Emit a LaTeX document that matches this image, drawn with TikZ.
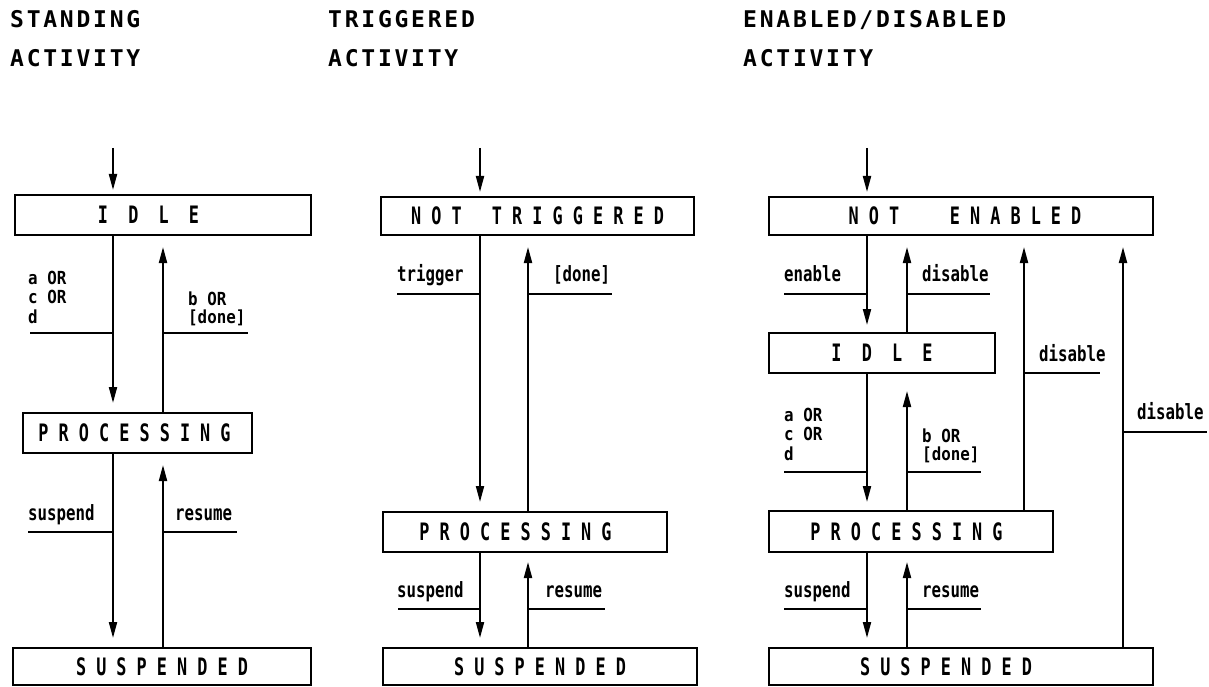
\documentclass[tikz,border=0pt]{standalone}
\usepackage{fontspec}
\usepackage{graphicx}
\usetikzlibrary{arrows.meta}
\newfontfamily\hdfont[LetterSpace=12]{DejaVu Sans Mono}
\newfontfamily\mfont{DejaVu Sans Mono}
\newcommand\boxtxt[1]{\scalebox{0.70}[1]{\mfont\bfseries\fontsize{24}{24}\selectfont #1}}
\newcommand\labtxt[1]{\scalebox{0.75}[1]{\mfont\bfseries\fontsize{21}{18}\selectfont #1}}
\newcommand\mltxt[2]{\scalebox{0.88}[1]{\mfont\bfseries\fontsize{18}{#1}\selectfont\vbox{#2}}}
\tikzset{
  stbox/.style={draw, line width=2.4pt, inner sep=0pt, outer sep=0pt},
  txt/.style={inner sep=0pt},
  lab/.style={inner sep=0pt, anchor=base west},
  hd/.style={inner sep=0pt, anchor=base west, font=\hdfont\bfseries\fontsize{23}{23}\selectfont},
  arr/.style={line width=2pt, -{Triangle[length=16pt,width=8pt]}},
  ul/.style={line width=2pt}
}
\begin{document}
\begin{tikzpicture}[x=1pt,y=-1pt]
\fill[white] (0,0) rectangle (1209,687);
\useasboundingbox (0,0) rectangle (1209,687);

% headers
\node[hd] (h1) at (10,28) {STANDING};
\node[hd] (h2) at (10,67) {ACTIVITY};
\node[hd] (h3) at (328,28) {TRIGGERED};
\node[hd] (h4) at (328,67) {ACTIVITY};
\node[hd] (h5) at (743,28) {ENABLED/DISABLED};
\node[hd] (h6) at (743,67) {ACTIVITY};

% ---------- left ----------
\coordinate (lx1) at (113,0);
\coordinate (lx2) at (163,0);
\coordinate (Lin) at (113,148);
\node[stbox, minimum width=296pt, minimum height=40pt] (L1) at (163,215) {};
\node[stbox, minimum width=229pt, minimum height=40pt] (L2) at (137.5,433) {};
\node[stbox, minimum width=298pt, minimum height=37pt] (L3) at (162,666.5) {};
\node[txt] (L1t) at ([xshift=-14.5pt]L1.center) {\boxtxt{I~~D~~L~~E}};
\node[txt] (L2t) at ([xshift=-3pt]L2.center) {\boxtxt{P~R~O~C~E~S~S~I~N~G}};
\node[txt] (L3t) at (L3.center) {\boxtxt{S~U~S~P~E~N~D~E~D}};
\draw[arr, shorten >=5pt] (Lin) -- (Lin |- L1.north);
\draw[arr, shorten >=10pt] (L1.south -| lx1) -- (L2.north -| lx1);
\draw[arr, shorten >=12pt] (L2.north -| lx2) -- (L1.south -| lx2);
\draw[arr, shorten >=10pt] (L2.south -| lx1) -- (L3.north -| lx1);
\draw[arr, shorten >=12pt] (L3.north -| lx2) -- (L2.south -| lx2);
\node[lab] (La) at (28,323) {\mltxt{19.5pt}{\hbox{a OR}\hbox{c OR}\hbox{d}}};
\draw[ul] (30,333) -- (113,333);
\node[lab] (Lb) at (188,323) {\mltxt{17.5pt}{\hbox{b OR}\hbox{[done]}}};
\draw[ul] (163,333) -- (248,333);
\node[lab] (Ls) at (28,520) {\labtxt{suspend}};
\draw[ul] (28,532) -- (113,532);
\node[lab] (Lr) at (175,520) {\labtxt{resume}};
\draw[ul] (163,532) -- (237,532);

% ---------- middle ----------
\coordinate (mx1) at (480,0);
\coordinate (mx2) at (528,0);
\coordinate (Min) at (480,148);
\node[stbox, minimum width=313pt, minimum height=38pt] (M1) at (537.5,216) {};
\node[stbox, minimum width=284pt, minimum height=40pt] (M2) at (525,532) {};
\node[stbox, minimum width=314pt, minimum height=37pt] (M3) at (540,666.5) {};
\node[txt] (M1t) at (M1.center) {\boxtxt{N~O~T~~~T~R~I~G~G~E~R~E~D}};
\node[txt] (M2t) at ([xshift=-9.5pt]M2.center) {\boxtxt{P~R~O~C~E~S~S~I~N~G}};
\node[txt] (M3t) at (M3.center) {\boxtxt{S~U~S~P~E~N~D~E~D}};
\draw[arr, shorten >=5pt] (Min) -- (Min |- M1.north);
\draw[arr, shorten >=10pt] (M1.south -| mx1) -- (M2.north -| mx1);
\draw[arr, shorten >=12pt] (M2.north -| mx2) -- (M1.south -| mx2);
\draw[arr, shorten >=10pt] (M2.south -| mx1) -- (M3.north -| mx1);
\draw[arr, shorten >=10pt] (M3.north -| mx2) -- (M2.south -| mx2);
\node[lab] (Mt) at (397,281) {\labtxt{trigger}};
\draw[ul] (397,294) -- (480,294);
\node[lab] (Md) at (553,281) {\labtxt{[done]}};
\draw[ul] (528,294) -- (612,294);
\node[lab] (Ms) at (397,597) {\labtxt{suspend}};
\draw[ul] (398,609) -- (480,609);
\node[lab] (Mr) at (545,597) {\labtxt{resume}};
\draw[ul] (528,609) -- (605,609);

% ---------- right ----------
\coordinate (rx1) at (867,0);
\coordinate (rx2) at (907,0);
\coordinate (rx3) at (1024,0);
\coordinate (rx4) at (1123,0);
\coordinate (Rin) at (867,148);
\node[stbox, minimum width=384pt, minimum height=38pt] (R1) at (961,216) {};
\node[stbox, minimum width=226pt, minimum height=40pt] (R2) at (882,353) {};
\node[stbox, minimum width=284pt, minimum height=41pt] (R3) at (911,531.5) {};
\node[stbox, minimum width=384pt, minimum height=37pt] (R4) at (961,666.5) {};
\node[txt] (R1t) at ([xshift=4pt]R1.center) {\boxtxt{N~O~T~~~~~E~N~A~B~L~E~D}};
\node[txt] (R2t) at (R2.center) {\boxtxt{I~~D~~L~~E}};
\node[txt] (R3t) at ([xshift=-4.5pt]R3.center) {\boxtxt{P~R~O~C~E~S~S~I~N~G}};
\node[txt] (R4t) at ([xshift=-15pt]R4.center) {\boxtxt{S~U~S~P~E~N~D~E~D}};
\draw[arr, shorten >=5pt] (Rin) -- (Rin |- R1.north);
\draw[arr, shorten >=8pt] (R1.south -| rx1) -- (R2.north -| rx1);
\draw[arr, shorten >=12pt] (R2.north -| rx2) -- (R1.south -| rx2);
\draw[arr, shorten >=9pt] (R2.south -| rx1) -- (R3.north -| rx1);
\draw[arr, shorten >=18pt] (R3.north -| rx2) -- (R2.south -| rx2);
\draw[arr, shorten >=12pt] (R3.north -| rx3) -- (R1.south -| rx3);
\draw[arr, shorten >=12pt] (R4.north -| rx4) -- (R1.south -| rx4);
\draw[arr, shorten >=10pt] (R3.south -| rx1) -- (R4.north -| rx1);
\draw[arr, shorten >=10pt] (R4.north -| rx2) -- (R3.south -| rx2);
\node[lab] (Re) at (784,281) {\labtxt{enable}};
\draw[ul] (784,294) -- (867,294);
\node[lab] (Rd1) at (922,281) {\labtxt{disable}};
\draw[ul] (907,294) -- (990,294);
\node[lab] (Rd2) at (1039,361) {\labtxt{disable}};
\draw[ul] (1024,373) -- (1100,373);
\node[lab] (Rd3) at (1137,419) {\labtxt{disable}};
\draw[ul] (1123,432) -- (1207,432);
\node[lab] (Ra) at (784,460) {\mltxt{19.5pt}{\hbox{a OR}\hbox{c OR}\hbox{d}}};
\draw[ul] (784,472) -- (867,472);
\node[lab] (Rb) at (922,460) {\mltxt{17.5pt}{\hbox{b OR}\hbox{[done]}}};
\draw[ul] (907,472) -- (981,472);
\node[lab] (Rs) at (784,597) {\labtxt{suspend}};
\draw[ul] (784,609) -- (867,609);
\node[lab] (Rr) at (922,597) {\labtxt{resume}};
\draw[ul] (907,609) -- (981,609);
\end{tikzpicture}
\end{document}
